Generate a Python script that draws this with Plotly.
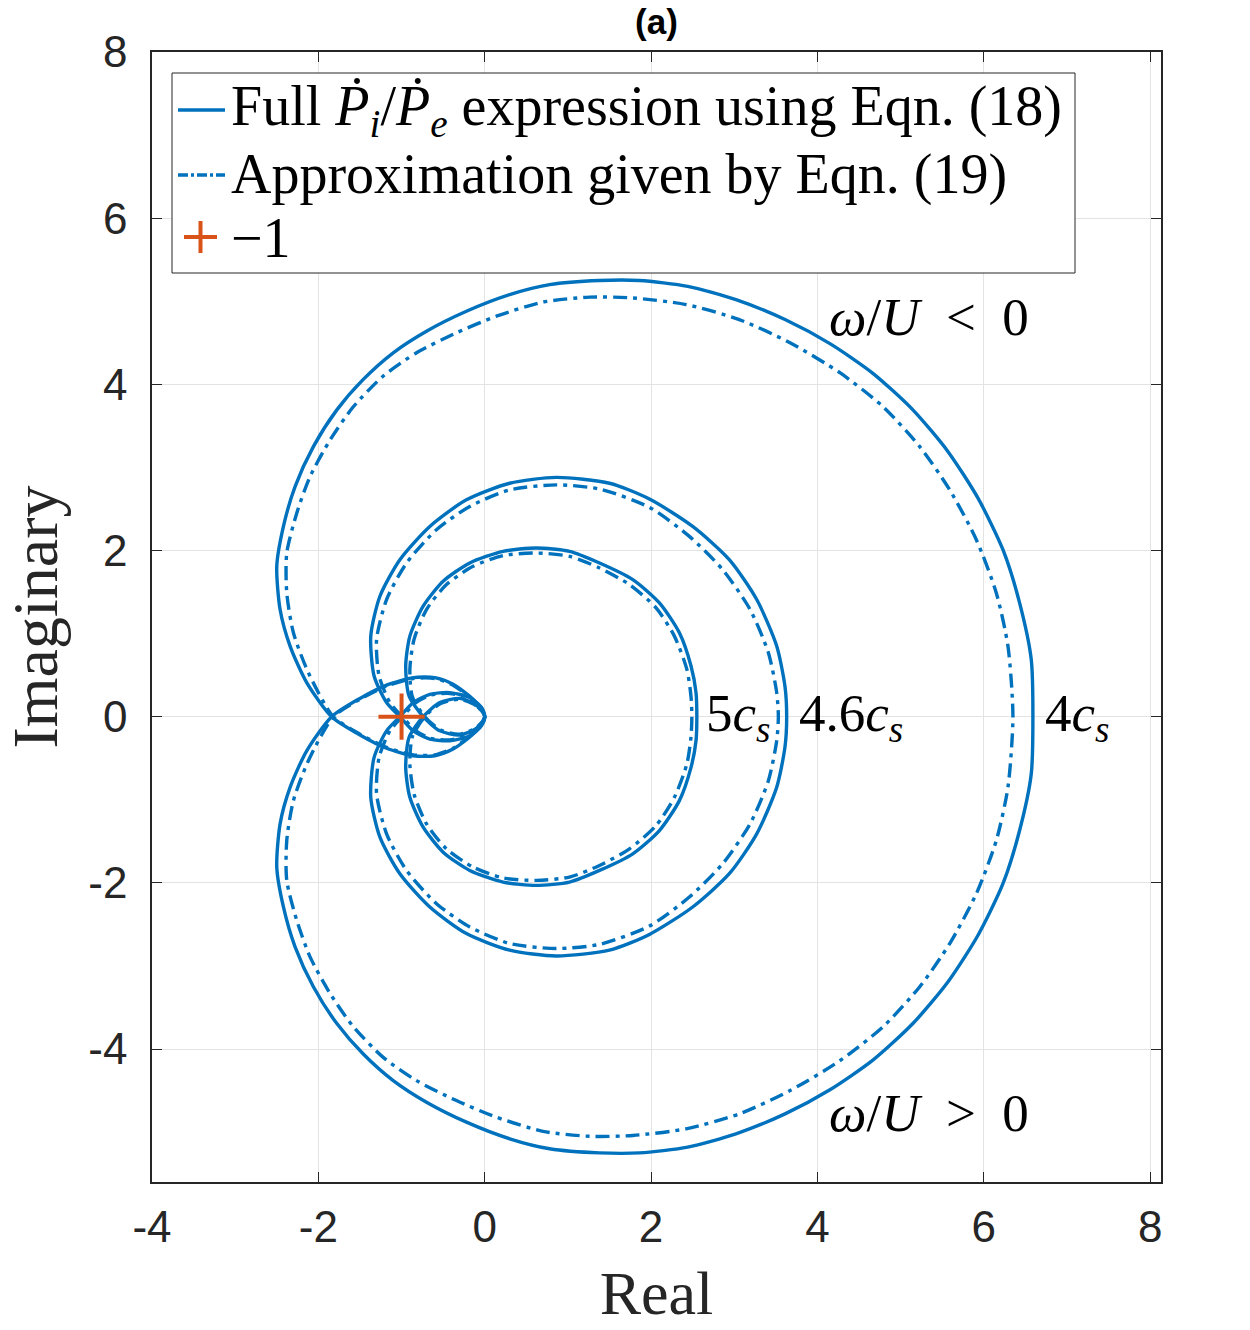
import plotly.graph_objects as go

# ---------------- data (upper branch, omega/U < 0; lower branch is its complex conjugate) -------------
re_4_full = [6.59, 6.57, 6.43, 6.23, 5.93, 5.57, 5.15, 4.67, 4.15, 3.61, 3.02, 2.44, 1.86, 1.38, 0.78, 0.30,
             -0.22, -0.70, -1.10, -1.46, -1.78, -2.06, -2.28, -2.42, -2.50, -2.46, -2.34, -2.14, -1.84,
             -1.50, -1.18, -0.86, -0.60, -0.38, -0.14, -0.02, 0.0]
im_4_full = [0.0, 0.69, 1.37, 2.01, 2.63, 3.19, 3.69, 4.13, 4.49, 4.78, 5.02, 5.18, 5.25, 5.25, 5.20, 5.08,
             4.88, 4.64, 4.38, 4.06, 3.69, 3.25, 2.77, 2.29, 1.81, 1.29, 0.85, 0.41, 0.0,
             -0.22, -0.38, -0.47, -0.47, -0.39, -0.21, -0.06, 0.0]

re_4_appr = [6.35, 6.29, 6.15, 5.91, 5.59, 5.23, 4.79, 4.27, 3.67, 3.06, 2.42, 1.78, 1.26, 0.70, 0.14, -0.34,
             -0.82, -1.22, -1.58, -1.86, -2.10, -2.26, -2.38, -2.38, -2.30, -2.12, -1.82,
             -1.50, -1.18, -0.86, -0.60, -0.38, -0.14, -0.02, 0.0]
im_4_appr = [0.0, 0.85, 1.49, 2.13, 2.73, 3.25, 3.73, 4.14, 4.50, 4.78, 4.96, 5.04, 5.05, 4.99, 4.82, 4.62,
             4.38, 4.10, 3.73, 3.33, 2.89, 2.45, 1.97, 1.49, 1.01, 0.53, 0.0,
             -0.21, -0.37, -0.46, -0.46, -0.38, -0.20, -0.06, 0.0]

re_46_full = [3.63, 3.61, 3.51, 3.27, 2.94, 2.50, 1.98, 1.50, 0.86, 0.30, -0.22, -0.66, -1.02, -1.26, -1.37,
              -1.33, -1.18, -1.02, -0.86, -0.66, -0.42, -0.18, -0.04, 0.0]
im_46_full = [0.0, 0.36, 0.85, 1.41, 1.89, 2.29, 2.62, 2.81, 2.88, 2.81, 2.61, 2.29, 1.89, 1.45, 0.97,
              0.49, 0.17, 0.0, -0.17, -0.27, -0.29, -0.23, -0.11, 0.0]

re_46_appr = [3.53, 3.51, 3.41, 3.19, 2.86, 2.46, 1.98, 1.38, 0.86, 0.30, -0.18, -0.58, -0.94, -1.18, -1.30,
              -1.27, -1.14, -0.99, -0.84, -0.65, -0.42, -0.18, -0.04, 0.0]
im_46_appr = [0.0, 0.29, 0.77, 1.29, 1.77, 2.17, 2.52, 2.74, 2.79, 2.73, 2.53, 2.25, 1.85, 1.41, 0.93,
              0.49, 0.17, 0.0, -0.16, -0.26, -0.28, -0.22, -0.11, 0.0]

re_5_full = [2.55, 2.54, 2.48, 2.34, 2.10, 1.78, 1.38, 1.02, 0.62, 0.22, -0.18, -0.50, -0.74, -0.90, -0.95,
             -0.91, -0.74, -0.54, -0.30, -0.10, 0.0]
im_5_full = [0.0, 0.29, 0.61, 1.01, 1.37, 1.65, 1.85, 1.99, 2.03, 1.99, 1.85, 1.63, 1.33, 0.97, 0.61,
             0.25, 0.0, -0.17, -0.22, -0.14, 0.0]

re_5_appr = [2.49, 2.48, 2.43, 2.28, 2.06, 1.74, 1.38, 1.02, 0.62, 0.22, -0.14, -0.46, -0.70, -0.85, -0.90,
             -0.87, -0.72, -0.53, -0.30, -0.10, 0.0]
im_5_appr = [0.0, 0.24, 0.57, 0.97, 1.31, 1.59, 1.79, 1.93, 1.97, 1.94, 1.81, 1.59, 1.29, 0.93, 0.57,
             0.24, 0.0, -0.16, -0.21, -0.13, 0.0]

critical_re = [-1.0]
critical_im = [0.0]

speed_labels = ["5<i>c<sub>s</sub></i>", "4.6<i>c<sub>s</sub></i>", "4<i>c<sub>s</sub></i>"]
speed_label_x = [2.64, 3.75, 6.71]

tick_vals = [-4, -2, 0, 2, 4, 6, 8]
tick_text = ["-4", "-2", "0", "2", "4", "6", "8"]

BLUE = "#0072BD"
ORANGE = "#D95319"
AXC = "#262626"
SERIF = "Liberation Serif, Times New Roman, serif"
SANS = "Liberation Sans, Arial, Helvetica, sans-serif"
DASHDOT = "14px,6px,4px,6px"


def full_curve(re, im):
    # omega/U > 0 branch (conjugate, traversed backwards) followed by omega/U < 0 branch
    xs = list(reversed(re)) + re[1:]
    ys = [-v for v in reversed(im)] + im[1:]
    return xs, ys


fig = go.Figure()
pairs = [(re_4_full, im_4_full, re_4_appr, im_4_appr),
         (re_46_full, im_46_full, re_46_appr, im_46_appr),
         (re_5_full, im_5_full, re_5_appr, im_5_appr)]
for rf, imf, ra, ima in pairs:
    x, y = full_curve(rf, imf)
    fig.add_trace(go.Scatter(x=x, y=y, mode="lines", showlegend=False,
                             line=dict(color=BLUE, width=3.4, shape="spline", smoothing=0.7)))
    x, y = full_curve(ra, ima)
    fig.add_trace(go.Scatter(x=x, y=y, mode="lines", showlegend=False,
                             line=dict(color=BLUE, width=3.4, dash=DASHDOT, shape="spline", smoothing=0.7)))

fig.add_trace(go.Scatter(x=critical_re, y=critical_im, mode="markers", showlegend=False,
                         marker=dict(symbol="cross-thin", size=33, line=dict(color=ORANGE, width=4))))

# ---------------- layout geometry (pixels of plot area) ----------------
W, H = 1250, 1330
L, R, T, B = 152, 1161, 52, 1182


def px(xpix):
    return (xpix - L) / (R - L)


def py(ypix):
    return (B - ypix) / (B - T)


annotations = []
for txt, xv in zip(speed_labels, speed_label_x):
    annotations.append(dict(x=xv, y=0, xref="x", yref="y", text=txt, showarrow=False,
                            xanchor="left", yanchor="middle", font=dict(family=SERIF, size=53, color="black")))
annotations.append(dict(x=4.11, y=4.81, xref="x", yref="y", text="<i>ω</i>/<i>U</i>  &lt;  0",
                        showarrow=False, xanchor="left", yanchor="middle",
                        font=dict(family=SERIF, size=53, color="black")))
annotations.append(dict(x=4.11, y=-4.77, xref="x", yref="y", text="<i>ω</i>/<i>U</i>  &gt;  0",
                        showarrow=False, xanchor="left", yanchor="middle",
                        font=dict(family=SERIF, size=53, color="black")))

# manual legend
leg_font = dict(family=SERIF, size=56, color="black")
leg_texts = ["Full <i>Ṗ<sub>i</sub></i>/<i>Ṗ<sub>e</sub></i> expression using Eqn. (18)",
             "Approximation given by Eqn. (19)",
             "−1"]
leg_rows = [110, 174, 238]
for t, r in zip(leg_texts, leg_rows):
    annotations.append(dict(x=px(229), y=py(r), xref="paper", yref="paper", text=t, showarrow=False,
                            xanchor="left", yanchor="middle", font=leg_font))

shapes = [
    dict(type="rect", xref="paper", yref="paper", x0=px(172), x1=px(1075), y0=py(273), y1=py(73),
         line=dict(color=AXC, width=1), fillcolor="white", layer="above"),
    dict(type="line", xref="paper", yref="paper", x0=px(178), x1=px(225), y0=py(110), y1=py(110),
         line=dict(color=BLUE, width=3.4), layer="above"),
    dict(type="line", xref="paper", yref="paper", x0=px(178), x1=px(225), y0=py(175), y1=py(175),
         line=dict(color=BLUE, width=3.4, dash="10px,3px,3px,3px"), layer="above"),
    dict(type="line", xref="paper", yref="paper", x0=px(184), x1=px(217), y0=py(237), y1=py(237),
         line=dict(color=ORANGE, width=4), layer="above"),
    dict(type="line", xref="paper", yref="paper", x0=px(200.5), x1=px(200.5), y0=py(253), y1=py(221),
         line=dict(color=ORANGE, width=4), layer="above"),
]

axis_common = dict(
    tickvals=tick_vals, ticktext=tick_text, ticks="inside", ticklen=10, tickwidth=1, tickcolor=AXC,
    showline=True, linecolor=AXC, linewidth=1.5, mirror="ticks", showgrid=True,
    gridcolor="#e3e3e3", gridwidth=1, zeroline=False, automargin=False,
    tickfont=dict(family=SANS, size=44, color=AXC),
)

fig.update_layout(
    width=W, height=H, autosize=False,
    margin=dict(l=L, r=W - R, t=T, b=H - B, pad=0),
    paper_bgcolor="white", plot_bgcolor="white",
    showlegend=False,
    title=dict(text="<b>(a)</b>", x=0.5, xref="paper", xanchor="center",
               y=1 - 22 / H, yref="container", yanchor="middle",
               font=dict(family=SANS, size=35, color="black")),
    xaxis=dict(range=[-4, 8.13], title=dict(text="Real", font=dict(family=SERIF, size=62, color=AXC),
                                           standoff=21),
               ticklabelstandoff=5, **axis_common),
    yaxis=dict(range=[-5.6, 8.0], title=dict(text="Imaginary", font=dict(family=SERIF, size=64, color=AXC),
                                            standoff=36),
               ticklabelstandoff=14, **axis_common),
    annotations=annotations,
    shapes=shapes,
)

fig.write_html("out.html")
